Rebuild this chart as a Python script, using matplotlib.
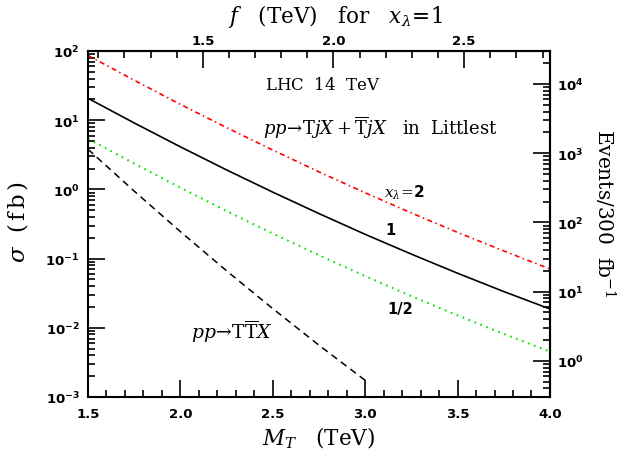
import numpy as np
import matplotlib
matplotlib.use('Agg')
import matplotlib.pyplot as plt
from matplotlib.ticker import FixedLocator, FixedFormatter, LogLocator, MultipleLocator, NullFormatter, FormatStrFormatter

plt.rcParams['mathtext.fontset'] = 'custom'
plt.rcParams['mathtext.rm'] = 'DejaVu Serif'
plt.rcParams['mathtext.it'] = 'DejaVu Serif:italic'
plt.rcParams['mathtext.bf'] = 'DejaVu Sans:bold'
plt.rcParams['lines.scale_dashes'] = False

# cross sections in fb
mt = [1.5, 1.75, 2.0, 2.25, 2.5, 2.75, 3.0, 3.25, 3.5, 3.75, 4.0]
sig_x2 = [86.3, 37.8, 16.9, 7.81, 3.70, 1.79, 0.893, 0.456, 0.239, 0.129, 0.0708]
sig_x1 = [20.7, 9.12, 4.12, 1.91, 0.912, 0.447, 0.224, 0.116, 0.0614, 0.0334, 0.0187]
sig_xhalf = [5.41, 2.36, 1.06, 0.487, 0.230, 0.112, 0.0558, 0.0286, 0.0151, 0.00815, 0.00452]
mt_pair = [1.5, 1.75, 2.0, 2.25, 2.5, 2.75, 3.0]
sig_pair = [3.80, 0.944, 0.245, 0.0665, 0.0189, 0.0056, 0.00174]

lumi = 300.0      # fb^-1
ratio = 1.4142    # M_T / f for x_lambda = 1

y_ticks = [1e-3, 1e-2, 1e-1, 1e0, 1e1, 1e2]
y_labels = [r'$\mathbf{10^{-3}}$', r'$\mathbf{10^{-2}}$', r'$\mathbf{10^{-1}}$',
            r'$\mathbf{10^{0}}$', r'$\mathbf{10^{1}}$', r'$\mathbf{10^{2}}$']
ev_ticks = [1e0, 1e1, 1e2, 1e3, 1e4]
ev_labels = [r'$\mathbf{10^{0}}$', r'$\mathbf{10^{1}}$', r'$\mathbf{10^{2}}$',
             r'$\mathbf{10^{3}}$', r'$\mathbf{10^{4}}$']
f_ticks = [1.5, 2.0, 2.5]

fig = plt.figure(figsize=(6.22, 4.60), dpi=100)
ax = fig.add_axes([0.1415, 0.1348, 0.7427, 0.7522])

ax.plot(mt, sig_x2, color='red', lw=1.2, dashes=(3.6, 2.5, 1.1, 2.5))
ax.plot(mt, sig_x1, color='black', lw=1.2)
ax.plot(mt, sig_xhalf, color='#00e600', lw=1.5, dashes=(1.2, 3.4))
ax.plot(mt_pair, sig_pair, color='black', lw=1.1, dashes=(5, 3.5))

ax.set_yscale('log')
ax.set_xlim(1.5, 4.0)
ax.set_ylim(1e-3, 1e2)

ax.xaxis.set_major_locator(MultipleLocator(0.5))
ax.xaxis.set_minor_locator(MultipleLocator(0.1))
ax.xaxis.set_major_formatter(FormatStrFormatter('%.1f'))
ax.yaxis.set_major_locator(FixedLocator(y_ticks))
ax.yaxis.set_major_formatter(FixedFormatter(y_labels))
ax.yaxis.set_minor_locator(LogLocator(base=10, subs=np.arange(2, 10), numticks=50))
ax.yaxis.set_minor_formatter(NullFormatter())
ax.tick_params(which='both', direction='in', top=False, right=False, width=1.2, labelsize=9.5)
ax.tick_params(which='major', length=12.5)
ax.tick_params(which='minor', length=4.8)
ax.tick_params(axis='x', pad=7)
ax.tick_params(axis='y', pad=6)
for lab in ax.get_xticklabels():
    lab.set_fontweight('bold')
for s in ax.spines.values():
    s.set_linewidth(1.5)

top = ax.secondary_xaxis('top', functions=(lambda m: m / ratio, lambda f: f * ratio))
top.xaxis.set_major_locator(FixedLocator(f_ticks))
top.xaxis.set_minor_locator(MultipleLocator(0.1))
top.xaxis.set_major_formatter(FormatStrFormatter('%.1f'))
top.tick_params(which='both', direction='in', width=1.2, labelsize=9.5, pad=3)
top.tick_params(which='major', length=12.5)
top.tick_params(which='minor', length=4.8)
for lab in top.get_xticklabels():
    lab.set_fontweight('bold')
top.spines['top'].set_linewidth(1.5)

right = ax.secondary_yaxis('right', functions=(lambda s: s * lumi, lambda e: e / lumi))
right.yaxis.set_major_locator(FixedLocator(ev_ticks))
right.yaxis.set_major_formatter(FixedFormatter(ev_labels))
right.yaxis.set_minor_locator(LogLocator(base=10, subs=np.arange(2, 10), numticks=50))
right.yaxis.set_minor_formatter(NullFormatter())
right.tick_params(which='both', direction='in', width=1.2, labelsize=9.5, pad=5)
right.tick_params(which='major', length=12.5)
right.tick_params(which='minor', length=4.8)
right.spines['right'].set_linewidth(1.5)

fig.text(0.512, 0.048, r'$M_T\ \ \ \mathrm{(TeV)}$', fontsize=15.5, ha='center', va='center')
fig.text(0.54, 0.965, r'$f\ \ \ \mathrm{(TeV)\ \ \ for}\ \ \ x_{\lambda}\!=\!1$', fontsize=15.5,
         ha='center', va='center')
fig.text(0.028, 0.517, r'$\sigma\ \ \mathrm{(\,f\,b\,)}$', fontsize=16.5, ha='center', va='center',
         rotation=90)
fig.text(0.972, 0.537, r'$\mathrm{Events/300\ \ fb}^{-1}$', fontsize=14.5, ha='center', va='center',
         rotation=-90)

ax.text(2.772, 33.3, r'$\mathrm{LHC\ \ 14\ \ TeV}$', fontsize=12, ha='center', va='center')
ax.text(3.08, 7.98, r'$pp\!\rightarrow\!\mathrm{T}jX+\overline{\mathrm{T}}jX\ \ \ \mathrm{in\ \ Littlest}$',
        fontsize=13, ha='center', va='center')
ax.text(3.215, 0.917, r'$x_{\lambda}\!=\!\mathbf{2}$', fontsize=11, ha='center', va='center')
ax.text(3.134, 0.259, '1', fontsize=10.5, fontweight='bold', ha='center', va='center')
ax.text(3.188, 0.0187, '1/2', fontsize=10.5, fontweight='bold', ha='center', va='center')
ax.text(2.279, 0.009, r'$pp\!\rightarrow\!\mathrm{T}\overline{\mathrm{T}}X$', fontsize=13.5,
        ha='center', va='center')

fig.savefig('out.png', dpi=100)
